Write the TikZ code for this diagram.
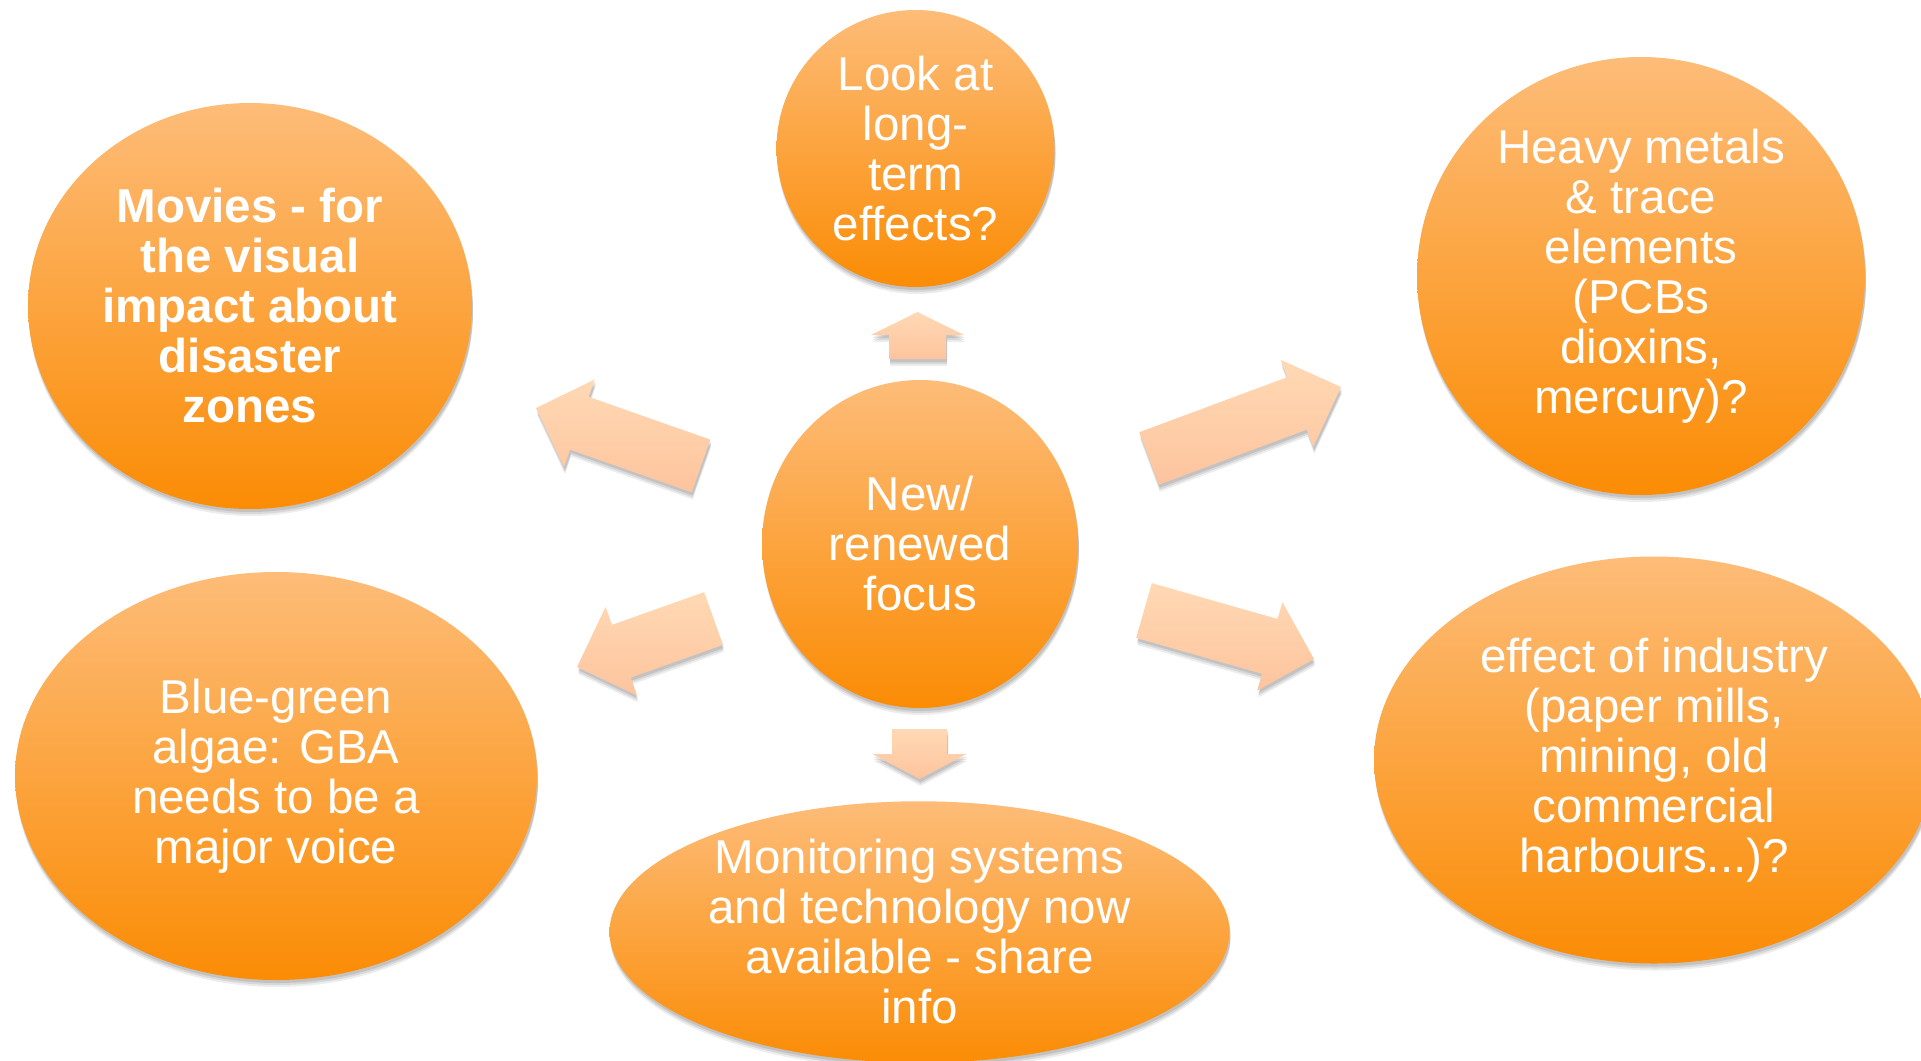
\documentclass[tikz,border=0pt]{standalone}
\usepackage{fontspec}
\setmainfont{Liberation Sans}
\usetikzlibrary{shapes.geometric,shadows,calc}
\definecolor{otop}{RGB}{253,188,120}
\definecolor{obot}{RGB}{251,140,5}
\definecolor{atop}{RGB}{255,217,180}
\definecolor{abot}{RGB}{253,196,158}
\tikzset{
  softshadow/.style={
    drop shadow={shadow xshift=1pt, shadow yshift=-7pt, opacity=0.07, fill=black},
    drop shadow={shadow xshift=1pt, shadow yshift=-5pt, opacity=0.09, fill=black},
    drop shadow={shadow xshift=1pt, shadow yshift=-3pt, opacity=0.10, fill=black}},
  bubble/.style={ellipse, inner sep=0pt, top color=otop, bottom color=obot, draw=none,
    text=white, align=center, font=\fontsize{47.5}{50}\selectfont, softshadow},
  arrowfill/.style={top color=atop, bottom color=abot, draw=none, softshadow}
}
\newcommand\blockarrow[5]{%
  \coordinate (#1h) at ($(#2)!#5!(#1)$);
  \path[arrowfill] ($(#1)!#3!90:(#2)$) -- ($(#1h)!#3!90:(#2)$) -- ($(#1h)!#4!90:(#2)$)
    -- (#2) -- ($(#1h)!#4!-90:(#2)$) -- ($(#1h)!#3!-90:(#2)$) -- ($(#1)!#3!-90:(#2)$) -- cycle;
}
\begin{document}
\begin{tikzpicture}[x=1pt,y=-1pt]
\useasboundingbox (0,0) rectangle (1921,1060);
% central and outer bubbles
\node[bubble, minimum width=316pt, minimum height=328pt] (c) at (920,544) {New/\\renewed\\focus};
\node[bubble, minimum width=278pt, minimum height=277pt] (top) at (915.5,148.5) {Look at\\long-\\term\\effects?};
\node[bubble, minimum width=444pt, minimum height=406pt, font=\fontsize{47.5}{50}\selectfont\bfseries] (tl) at (250,306) {Movies - for\\the visual\\impact about\\disaster\\zones};
\node[bubble, minimum width=448pt, minimum height=438pt] (tr) at (1641,276) {Heavy metals\\\& trace\\elements\\(PCBs\\dioxins,\\mercury)?};
\node[bubble, minimum width=522pt, minimum height=408pt] (bl) at (276,776) {Blue-green\\algae: GBA\\needs to be a\\major voice};
\node[bubble, minimum width=620pt, minimum height=258pt] (b) at (919.5,932) {Monitoring systems\\and technology now\\available - share\\info};
\node[bubble, minimum width=560pt, minimum height=407pt] (br) at (1654,760) {effect of industry\\(paper mills,\\mining, old\\commercial\\harbours...)?};
% block arrows
\coordinate (a1t) at (701,466);    \coordinate (a1p) at (536,408);
\coordinate (a2t) at (1149,458.5); \coordinate (a2p) at (1341,387);
\coordinate (a3t) at (917.5,359);  \coordinate (a3p) at (917.5,312);
\coordinate (a4t) at (919.5,729);  \coordinate (a4p) at (919.5,779);
\coordinate (a5t) at (713.5,618.5);\coordinate (a5p) at (577,667);
\coordinate (a6t) at (1144,610.5); \coordinate (a6p) at (1314,659);
\blockarrow{a1t}{a1p}{28pt}{46.5pt}{46pt}
\blockarrow{a2t}{a2p}{28pt}{46.5pt}{47pt}
\blockarrow{a3t}{a3p}{28.5pt}{46.5pt}{23pt}
\blockarrow{a4t}{a4p}{27.5pt}{47pt}{25pt}
\blockarrow{a5t}{a5p}{28pt}{47pt}{47pt}
\blockarrow{a6t}{a6p}{28.5pt}{46pt}{46pt}
\end{tikzpicture}
\end{document}
